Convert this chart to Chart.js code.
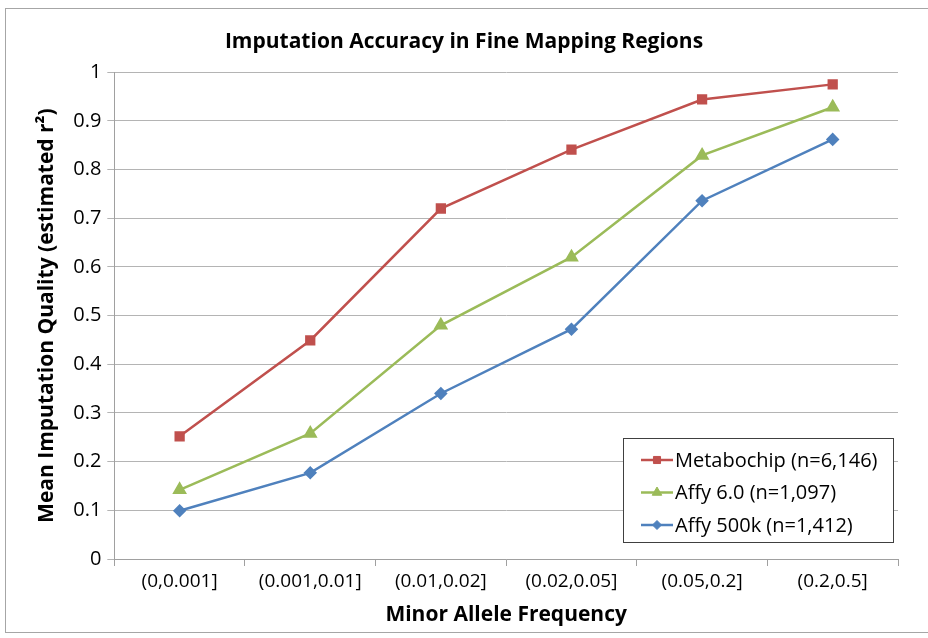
<!DOCTYPE html>
<html>
<head>
<meta charset="utf-8">
<script src="https://cdn.jsdelivr.net/npm/chart.js@4.4.1/dist/chart.umd.min.js"></script>
<style>
  html, body { margin: 0; padding: 0; background: #fff; overflow: hidden; }
  #wrap { position: relative; width: 948px; height: 638px; }
</style>
</head>
<body>
<div id="wrap"><canvas id="chart" width="948" height="638"></canvas></div>
<script>
// categories (minor allele frequency bins)
const mafBins = ["(0,0.001]", "(0.001,0.01]", "(0.01,0.02]", "(0.02,0.05]", "(0.05,0.2]", "(0.2,0.5]"];
// mean imputation quality per platform
const metabochip = [0.252, 0.449, 0.720, 0.841, 0.944, 0.975];
const affy60 = [0.142, 0.258, 0.480, 0.620, 0.829, 0.928];
const affy500k = [0.099, 0.177, 0.340, 0.472, 0.736, 0.862];
const seriesNames = ["Metabochip (n=6,146)", "Affy 6.0 (n=1,097)", "Affy 500k (n=1,412)"];
const yTicks = [0, 0.1, 0.2, 0.3, 0.4, 0.5, 0.6, 0.7, 0.8, 0.9, 1];

const fontFam = "'Open Sans', Lato, sans-serif";

// outer frame like the spreadsheet chart border
const framePlugin = {
  id: "frame",
  beforeDraw(chart) {
    const ctx = chart.ctx;
    ctx.save();
    ctx.strokeStyle = "#a6a6a6";
    ctx.lineWidth = 1;
    ctx.strokeRect(5.5, 8.5, 980, 624);
    ctx.restore();
  }
};

// legend box drawn inside the plot, bottom right
const boxLegend = {
  id: "boxLegend",
  afterDraw(chart) {
    const ctx = chart.ctx;
    const a = chart.chartArea;
    const w = 270, h = 104;
    const x = a.right - 5 - w, y = a.bottom - 17 - h;
    ctx.save();
    ctx.fillStyle = "#fff";
    ctx.fillRect(x, y, w, h);
    ctx.strokeStyle = "#404040";
    ctx.lineWidth = 1;
    ctx.strokeRect(Math.round(x) + 0.5, Math.round(y) + 0.5, w, h);
    ctx.font = "20px " + fontFam;
    ctx.textBaseline = "middle";
    chart.data.datasets.forEach((ds, i) => {
      const ry = y + 22 + i * 32.5;
      ctx.strokeStyle = ds.borderColor;
      ctx.lineWidth = 2.5;
      ctx.beginPath();
      ctx.moveTo(x + 18, ry);
      ctx.lineTo(x + 50, ry);
      ctx.stroke();
      ctx.fillStyle = ds.pointBackgroundColor;
      ctx.strokeStyle = ds.borderColor;
      ctx.lineWidth = 1;
      Chart.helpers.drawPoint(ctx, {
        pointStyle: ds.pointStyle, radius: ds.pointRadius - 0.5, borderWidth: 1
      }, x + 34, ry);
      ctx.fillStyle = "#000";
      ctx.fillText(ds.label, x + 52, ry + 1);
    });
    ctx.restore();
  }
};

function ds(label, data, color, style, r) {
  return {
    label: label,
    data: data,
    borderColor: color,
    backgroundColor: color,
    pointBackgroundColor: color,
    pointBorderColor: color,
    pointStyle: style,
    pointRadius: r,
    borderWidth: 2.5,
    tension: 0
  };
}

new Chart(document.getElementById("chart"), {
  type: "line",
  plugins: [framePlugin, boxLegend],
  data: {
    labels: mafBins,
    datasets: [
      ds(seriesNames[0], metabochip, "#c0504d", "rect", 5.5),
      ds(seriesNames[1], affy60, "#9bbb59", "triangle", 6),
      ds(seriesNames[2], affy500k, "#4f81bd", "rectRot", 5)
    ]
  },
  options: {
    responsive: false,
    animation: false,
    layout: { padding: { left: 30, right: 50, top: 29, bottom: 6 } },
    plugins: {
      legend: { display: false },
      tooltip: { enabled: false },
      title: {
        display: true,
        text: "Imputation Accuracy in Fine Mapping Regions",
        color: "#000",
        font: { family: fontFam, size: 21, weight: "bold" },
        padding: { top: 0, bottom: 18 }
      }
    },
    scales: {
      x: {
        offset: true,
        grid: { offset: true, drawOnChartArea: false, color: "#a0a0a0", tickLength: 7 },
        border: { color: "#a0a0a0" },
        ticks: { color: "#000", font: { family: fontFam, size: 19 }, padding: 4 },
        title: {
          display: true,
          text: "Minor Allele Frequency",
          color: "#000",
          font: { family: fontFam, size: 21, weight: "bold" },
          padding: { top: 6 }
        }
      },
      y: {
        min: 0,
        max: 1,
        afterBuildTicks(scale) { scale.ticks = yTicks.map(v => ({ value: v })); },
        grid: { color: "#b4b4b4", tickLength: 7 },
        border: { color: "#a0a0a0" },
        ticks: {
          color: "#000",
          font: { family: fontFam, size: 20 },
          padding: 6,
          callback: v => String(Math.round(v * 10) / 10)
        },
        title: {
          display: true,
          text: "Mean Imputation Quality (estimated r\u00B2)",
          color: "#000",
          font: { family: fontFam, size: 21, weight: "bold" },
          padding: { bottom: 8 }
        }
      }
    }
  }
});
</script>
</body>
</html>
